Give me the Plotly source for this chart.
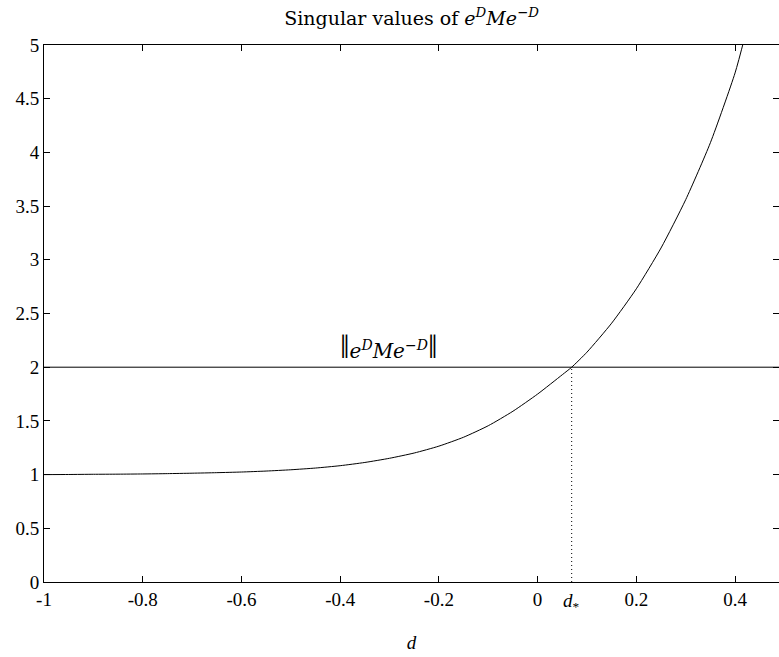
import plotly.graph_objects as go

# Largest singular value of e^D M e^-D as a function of d
d_vals = [-1.0, -0.95, -0.9, -0.85, -0.8, -0.75, -0.7, -0.65, -0.6, -0.55,
          -0.5, -0.45, -0.4, -0.35, -0.3, -0.25, -0.2, -0.15, -0.1, -0.05,
          0.0, 0.05, 0.069, 0.1, 0.15, 0.2, 0.25, 0.3, 0.35, 0.4, 0.42]
sigma_vals = [1.000, 1.001, 1.003, 1.004, 1.006, 1.009, 1.013, 1.018, 1.024, 1.033,
              1.045, 1.061, 1.083, 1.113, 1.152, 1.201, 1.265, 1.348, 1.455, 1.59,
              1.75, 1.93, 2.00, 2.14, 2.41, 2.73, 3.11, 3.56, 4.09, 4.74, 5.08]

norm_level = 2.0          # ||e^D M e^-D||
d_star = 0.069            # crossing point

x_ticks = [-1, -0.8, -0.6, -0.4, -0.2, 0, 0.2, 0.4]
x_ticktext = ["-1", "-0.8", "-0.6", "-0.4", "-0.2", "0", "0.2", "0.4"]
y_ticks = [0, 0.5, 1, 1.5, 2, 2.5, 3, 3.5, 4, 4.5, 5]
y_ticktext = ["0", "0.5", "1", "1.5", "2", "2.5", "3", "3.5", "4", "4.5", "5"]

x_range = [-1, 0.489]
y_range = [0, 5]

serif = "Times New Roman, Liberation Serif, Times, serif"
wide_serif = "DejaVu Serif, serif"

fig = go.Figure()

fig.add_trace(go.Scatter(
    x=d_vals, y=sigma_vals, mode="lines",
    line=dict(color="black", width=1, shape="spline", smoothing=0.6),
    hoverinfo="skip", showlegend=False))

fig.add_trace(go.Scatter(
    x=x_range, y=[norm_level, norm_level], mode="lines",
    line=dict(color="black", width=1), hoverinfo="skip", showlegend=False, yaxis="y2"))

fig.add_trace(go.Scatter(
    x=[d_star, d_star], y=[0, norm_level], mode="lines",
    line=dict(color="black", width=1, dash="1px,3px"), hoverinfo="skip", showlegend=False))

fig.update_layout(
    width=779, height=657,
    margin=dict(l=44, r=0, t=45, b=75),
    paper_bgcolor="white", plot_bgcolor="white",
    font=dict(family=serif, size=18, color="black"),
    title=dict(
        text="Singular values of <i>e</i><sup><i>D</i></sup><i>Me</i><sup>\u2212<i>D</i></sup>",
        xref="paper", x=0.5, xanchor="center", y=0.972, yanchor="middle",
        font=dict(family=wide_serif, size=19, color="black")),
    xaxis=dict(
        range=x_range, tickvals=x_ticks, ticktext=x_ticktext,
        ticks="inside", ticklen=6, tickcolor="black",
        showline=True, linecolor="black", linewidth=1, mirror="ticks",
        showgrid=False, zeroline=False,
        title=dict(text="<i>d</i>", font=dict(family=serif, size=19), standoff=26),
        tickfont=dict(family=serif, size=19)),
    yaxis=dict(
        range=y_range, tickvals=y_ticks, ticktext=y_ticktext,
        ticks="inside", ticklen=6, tickcolor="black",
        showline=True, linecolor="black", linewidth=1,
        showgrid=False, zeroline=False,
        tickfont=dict(family=serif, size=19)),
    yaxis2=dict(
        range=y_range, overlaying="y", side="right", tickvals=y_ticks,
        ticks="inside", ticklen=6, tickcolor="black", showticklabels=False,
        showline=False, showgrid=False, zeroline=False),
)

fig.add_annotation(
    x=-0.303, y=norm_level, yanchor="bottom", yshift=0, showarrow=False,
    text=("<span style='font-size:34px;font-family:Liberation Serif'>\u2016</span>"
          "<i>e</i><sup><i>D</i></sup><i>Me</i><sup>\u2212<i>D</i></sup>"
          "<span style='font-size:34px;font-family:Liberation Serif'>\u2016</span>"),
    font=dict(family=wide_serif, size=20, color="black"))

fig.add_annotation(
    x=d_star, y=0, yref="y", yanchor="top", yshift=-6, showarrow=False,
    text="<i>d</i><sub>*</sub>", font=dict(family=serif, size=19, color="black"))

fig.write_html("out.html")
